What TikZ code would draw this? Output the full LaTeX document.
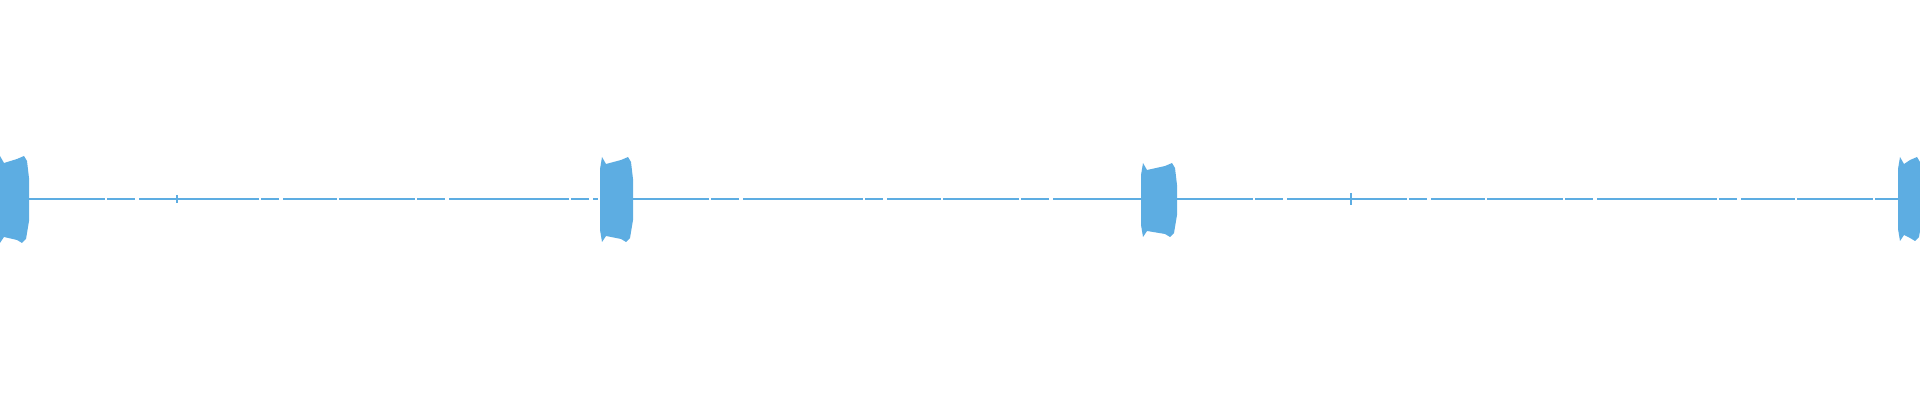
\documentclass[tikz,border=0pt]{standalone}
\usepackage{tikz}
\definecolor{wave}{RGB}{93,173,226}
\begin{document}
\begin{tikzpicture}[x=0.5pt,y=-0.5pt]
        % Style of the trace
        \tikzset{
            burst/.style={fill=wave, draw=none},
            trace/.style={wave, line width=0.65pt,
                dash pattern=on 38 off 1 on 14 off 2 on 60 off 1 on 9 off 2 on 27 off 1},
        }
        \useasboundingbox (0,0) rectangle (1920,400);

        % Bursts: left, right, top, bottom
        \foreach \xa/\xb/\ya/\yb in {-2/29/156/243, 600/633/157/242,
            1141/1177/163/237, 1898/1922/157/241} {
            \fill[wave] (\xa,\ya+12) -- (\xa+2,\ya) -- (\xa+6,\ya+7)
                -- (\xb-12,\ya+3) -- (\xb-5,\ya) -- (\xb-2,\ya+5) -- (\xb,\ya+22)
                -- (\xb,\yb-22) -- (\xb-3,\yb-4) -- (\xb-7,\yb) -- (\xb-12,\yb-3)
                -- (\xa+6,\yb-6) -- (\xa+2,\yb) -- (\xa,\yb-12) -- cycle;
        }

        % Quiet parts of the trace
        \coordinate (S1) at (29,199);
        \coordinate (E1) at (598,199);
        \coordinate (S2) at (633,199);
        \coordinate (E2) at (1141,199);
        \coordinate (S3) at (1177,199);
        \coordinate (E3) at (1898,199);
        \draw[trace] (S1) -- (E1);
        \draw[trace] (S2) -- (E2);
        \draw[trace] (S3) -- (E3);

        % Small spikes
        \draw[wave, line width=0.6pt] (177,195) -- (177,203);
        \draw[wave, line width=0.6pt] (1351,193) -- (1351,205);
\end{tikzpicture}
\end{document}
